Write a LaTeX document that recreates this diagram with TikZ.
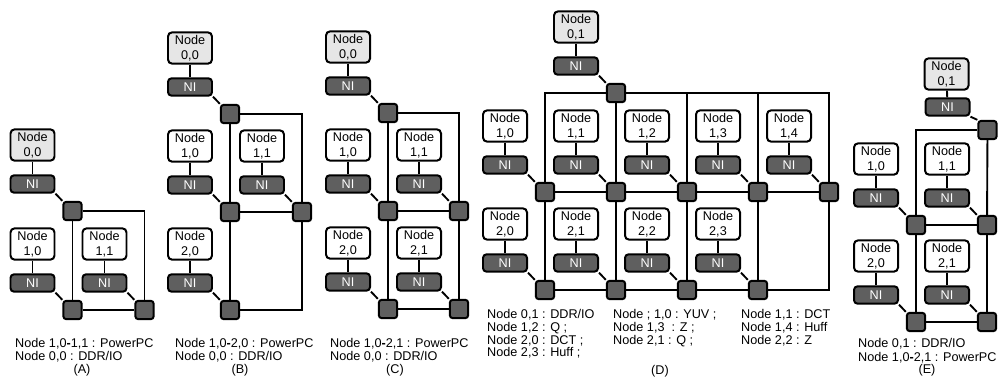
\documentclass[tikz,border=0pt]{standalone}
\usepackage{fontspec}
\setmainfont{Liberation Sans}
\definecolor{hostgray}{HTML}{E6E6E6}
\definecolor{nigray}{HTML}{5F5F5F}
% one tile: name, x, y of its top left corner, label, fill of the node box
\newcommand{\tile}[5]{%
  \node[pe,fill=#5] (#1) at (#2+23,#3+17) {Node\\#4};
  \node[ni] (#1ni) at (#2+23,#3+56) {NI};
  \node[rt] (#1r) at (#2+63,#3+83) {};
  \draw[link] (#1) -- (#1ni);
  \draw[link] (#1ni.south east) -- (#1r.north west);
}
\newcommand{\dash}{\textbf{-}}

\begin{document}
\begin{tikzpicture}[x=0.03cm,y=-0.03cm,
    txt/.style={font=\fontsize{10.8}{12.8}\selectfont},
    pe/.style={txt,draw,line width=1.7pt,rounded corners=3.5pt,align=center,
      minimum width=1.32cm,minimum height=0.94cm,inner sep=1pt},
    ni/.style={txt,draw,line width=1.7pt,rounded corners=3pt,fill=nigray,text=white,
      minimum width=1.32cm,minimum height=0.52cm,inner sep=0pt},
    rt/.style={draw,line width=1.7pt,rounded corners=2.5pt,fill=nigray,
      minimum size=0.55cm,inner sep=0pt},
    link/.style={line width=1.6pt},
    captext/.style={txt,anchor=base west,inner sep=0pt},
    tagtext/.style={txt,anchor=base,inner sep=0pt}]
  \useasboundingbox (0,0) rectangle (999,385);

  % (A)
  \tile{a00}{9.5}{128}{0,0}{hostgray}
  \tile{a10}{9.5}{227}{1,0}{white}
  \tile{a11}{81.5}{227}{1,1}{white}
  \draw[link] (a00r) -- (a10r) -- (a11r);
  \draw[link] (a00r) -| (a11r);
  \node[captext] (acap1) at (15,347.5) {Node 1,0\dash 1,1 : PowerPC};
  \node[captext] (acap2) at (15,360.5) {Node 0,0 : DDR/IO};
  \node[tagtext] (atag) at (82,373) {(A)};

  % (B)
  \tile{b00}{167}{31}{0,0}{hostgray}
  \tile{b10}{167}{129}{1,0}{white}
  \tile{b11}{239}{129}{1,1}{white}
  \tile{b20}{167}{227}{2,0}{white}
  \draw[link] (b00r) -- (b10r) -- (b20r);
  \draw[link] (b10r) -- (b11r);
  \draw[link] (b00r) -| (b11r);
  \draw[link] (b11r) |- (b20r);
  \node[captext] (bcap1) at (175,347.5) {Node 1,0\dash 2,0 : PowerPC};
  \node[captext] (bcap2) at (175,360.5) {Node 0,0 : DDR/IO};
  \node[tagtext] (btag) at (240,373) {(B)};

  % (C)
  \tile{c00}{325}{30}{0,0}{hostgray}
  \tile{c10}{325}{128}{1,0}{white}
  \tile{c11}{396}{128}{1,1}{white}
  \tile{c20}{325}{226}{2,0}{white}
  \tile{c21}{396}{226}{2,1}{white}
  \draw[link] (c00r) -- (c10r) -- (c20r) -- (c21r);
  \draw[link] (c10r) -- (c11r) -- (c21r);
  \draw[link] (c00r) -| (c11r);
  \node[captext] (ccap1) at (330,347.5) {Node 1,0\dash 2,1 : PowerPC};
  \node[captext] (ccap2) at (330,360.5) {Node 0,0 : DDR/IO};
  \node[tagtext] (ctag) at (395,373) {(C)};

  % (D)
  \tile{d01}{553}{10}{0,1}{hostgray}
  \tile{d10}{482}{109}{1,0}{white}
  \tile{d11}{553}{109}{1,1}{white}
  \tile{d12}{624}{109}{1,2}{white}
  \tile{d13}{695}{109}{1,3}{white}
  \tile{d14}{766}{109}{1,4}{white}
  \tile{d20}{482}{207}{2,0}{white}
  \tile{d21}{553}{207}{2,1}{white}
  \tile{d22}{624}{207}{2,2}{white}
  \tile{d23}{695}{207}{2,3}{white}
  \draw[link] (d10r) |- (d01r);
  \draw[link] (d01r) -| (d14r);
  \draw[link] (d12r) -- (d12r |- d01r);
  \draw[link] (d13r) -- (d13r |- d01r);
  \draw[link] (d10r) -- (d11r) -- (d12r) -- (d13r) -- (d14r);
  \draw[link] (d20r) -- (d21r) -- (d22r) -- (d23r);
  \draw[link] (d10r) -- (d20r);
  \draw[link] (d01r) -- (d11r) -- (d21r);
  \draw[link] (d12r) -- (d22r);
  \draw[link] (d13r) -- (d23r);
  \draw[link] (d23r) -| (d14r);
  \node[captext] (dcap1) at (487,318.5) {Node 0,1 : DDR/IO};
  \node[captext] (dcap2) at (487,331.5) {Node 1,2 : Q ;};
  \node[captext] (dcap3) at (487,344) {Node 2,0 : DCT ;};
  \node[captext] (dcap4) at (487,356.5) {Node 2,3 : Huff ;};
  \node[captext] (dcap5) at (613,318.5) {Node ; 1,0 : YUV ;};
  \node[captext] (dcap6) at (613,331.5) {Node 1,3~ : Z ;};
  \node[captext] (dcap7) at (613,344) {Node 2,1 : Q ;};
  \node[captext] (dcap8) at (741,318.5) {Node 1,1 : DCT};
  \node[captext] (dcap9) at (741,331.5) {Node 1,4 : Huff};
  \node[captext] (dcap10) at (741,344) {Node 2,2 : Z};
  \node[tagtext] (dtag) at (660,374.5) {(D)};

  % (E), the top tile sits closer to its NI and router
  \node[pe,fill=hostgray] (e01) at (946.5,74) {Node\\0,1};
  \node[ni] (e01ni) at (947.5,107) {NI};
  \node[rt] (e01r) at (987.5,130) {};
  \draw[link] (e01) -- (e01ni);
  \draw[link] (e01ni.south east) -- (e01r.north west);
  \tile{e10}{853}{142}{1,0}{white}
  \tile{e11}{924}{142}{1,1}{white}
  \tile{e20}{853}{239}{2,0}{white}
  \tile{e21}{924}{239}{2,1}{white}
  \draw[link] (e01r) -| (e10r);
  \draw[link] (e10r) -- (e20r) -- (e21r);
  \draw[link] (e01r) -- (e11r) -- (e21r);
  \draw[link] (e10r) -- (e11r);
  \node[captext] (ecap1) at (858,347.5) {Node 0,1 : DDR/IO};
  \node[captext] (ecap2) at (858,361.5) {Node 1,0\dash 2,1 : PowerPC};
  \node[tagtext] (etag) at (927,373.5) {(E)};
\end{tikzpicture}
\end{document}
